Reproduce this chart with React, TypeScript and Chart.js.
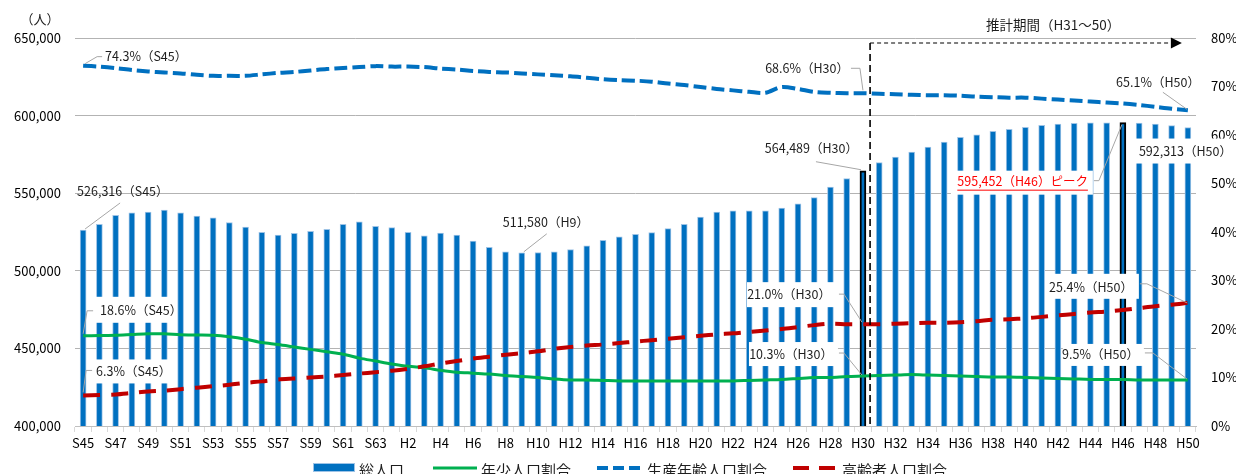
import React, { useEffect, useRef } from 'react';
import { Chart, registerables } from 'chart.js';
Chart.register(...registerables);

const FONT = '"Noto Sans CJK JP", "Noto Sans", sans-serif';
const TXT = '#1e1e1e';

const years: string[] = [
  'S45','S46','S47','S48','S49','S50','S51','S52','S53','S54','S55','S56','S57','S58','S59','S60','S61','S62','S63',
  'H1','H2','H3','H4','H5','H6','H7','H8','H9','H10','H11','H12','H13','H14','H15','H16','H17','H18','H19','H20',
  'H21','H22','H23','H24','H25','H26','H27','H28','H29','H30','H31','H32','H33','H34','H35','H36','H37','H38','H39','H40',
  'H41','H42','H43','H44','H45','H46','H47','H48','H49','H50',
];

const totalPopulation: number[] = [
  526316, 530000, 535700, 537400, 537800, 539100, 537400, 535200, 534100, 531100, 528200, 524800, 523000, 524100, 525400, 526700, 530000, 531500, 528700,
  527800, 524800, 522600, 524300, 523000, 519100, 515200, 512200, 511580, 511800, 512200, 513700, 516100, 519600, 521900, 523500, 524600, 527200, 530000, 534600,
  537800, 538700, 538700, 538700, 540400, 543200, 547100, 553900, 559500, 564489, 569800, 573300, 576500, 579700, 583000, 586000, 587600, 589800, 591100, 592500,
  593700, 594500, 595000, 595300, 595400, 595452, 595200, 594500, 593500, 592313,
];

const youthRatio: number[] = [
  18.6, 18.65, 18.7, 18.85, 19.0, 19.0, 18.8, 18.75, 18.7, 18.4, 17.9, 17.2, 16.8, 16.3, 15.8, 15.3, 14.8, 14.0, 13.4,
  12.8, 12.3, 12.0, 11.5, 11.1, 10.9, 10.7, 10.4, 10.2, 10.0, 9.7, 9.5, 9.5, 9.4, 9.3, 9.3, 9.3, 9.3, 9.3, 9.3,
  9.3, 9.3, 9.4, 9.5, 9.6, 9.8, 10.0, 10.0, 10.2, 10.3, 10.4, 10.5, 10.6, 10.5, 10.4, 10.3, 10.2, 10.1, 10.1, 10.0,
  9.9, 9.8, 9.7, 9.6, 9.6, 9.6, 9.5, 9.5, 9.5, 9.5,
];

const workingRatio: number[] = [
  74.3, 74.1, 73.8, 73.4, 73.1, 72.9, 72.7, 72.4, 72.2, 72.2, 72.2, 72.5, 72.8, 73.0, 73.3, 73.6, 73.8, 74.0, 74.2,
  74.1, 74.1, 74.0, 73.7, 73.5, 73.2, 73.0, 72.9, 72.7, 72.5, 72.3, 72.1, 71.8, 71.5, 71.3, 71.2, 71.0, 70.6, 70.3, 69.9,
  69.5, 69.2, 68.9, 68.7, 69.9, 69.5, 68.9, 68.7, 68.6, 68.6, 68.5, 68.4, 68.3, 68.2, 68.2, 68.1, 67.9, 67.8, 67.7, 67.7,
  67.5, 67.3, 67.1, 66.9, 66.7, 66.5, 66.2, 65.8, 65.4, 65.1,
];

const elderlyRatio: number[] = [
  6.3, 6.4, 6.5, 6.8, 7.1, 7.3, 7.6, 7.9, 8.2, 8.5, 8.9, 9.2, 9.6, 9.8, 10.0, 10.2, 10.5, 10.8, 11.1,
  11.4, 11.8, 12.3, 12.9, 13.4, 13.9, 14.3, 14.7, 15.0, 15.4, 15.9, 16.3, 16.6, 16.8, 17.1, 17.4, 17.7, 18.0, 18.3, 18.6,
  18.9, 19.1, 19.4, 19.7, 20.0, 20.4, 20.8, 21.1, 21.0, 21.0, 21.0, 21.1, 21.2, 21.3, 21.3, 21.4, 21.6, 21.9, 22.0, 22.2,
  22.5, 22.8, 23.1, 23.4, 23.6, 23.9, 24.3, 24.7, 25.0, 25.4,
];

const highlightYears: string[] = ['H30', 'H46'];
const seriesNames: string[] = ['総人口', '年少人口割合', '生産年齢人口割合', '高齢者人口割合'];
const forecastText = '推計期間（H31～50）';
const unitText = '（人）';

type Ann = {
  year: string;
  ds: number; // 0 bar, 1 youth, 2 working, 3 elderly
  text: string;
  align: 'left' | 'right';
  dx: number;
  dy: number;
  box?: [number, number, number, number];
  leader?: [number, number][];
  red?: boolean;
};

const annotations: Ann[] = [
  { year: 'S45', ds: 2, text: '74.3%（S45）', align: 'left', dx: 22, dy: -9, leader: [[2, -2], [14, -9], [19, -9]] },
  { year: 'H30', ds: 2, text: '68.6%（H30）', align: 'right', dx: -14, dy: -25, leader: [[-12, -25], [-3, -25], [0, -3]] },
  { year: 'H50', ds: 2, text: '65.1%（H50）', align: 'right', dx: 12, dy: -28, leader: [[-25, -18], [-1, -1]] },
  { year: 'S45', ds: 0, text: '526,316（S45）', align: 'left', dx: -6, dy: -39, leader: [[2, -1], [37, -27]] },
  { year: 'H9', ds: 0, text: '511,580（H9）', align: 'left', dx: -19, dy: -31, leader: [[2, -1], [25, -19]] },
  { year: 'H30', ds: 0, text: '564,489（H30）', align: 'right', dx: -5, dy: -22, leader: [[-47, -9], [-2, -1]] },
  { year: 'H50', ds: 0, text: '592,313（H50）', align: 'left', dx: -49, dy: 24, box: [-54, 45, 11, 36] },
  { year: 'H46', ds: 0, text: '595,452（H46）ピーク', align: 'right', dx: -35, dy: 59, box: [-172, -30, 48, 72], leader: [[-29, 58], [-24, 58], [-1, 2]], red: true },
  { year: 'S45', ds: 1, text: '18.6%（S45）', align: 'left', dx: 17, dy: -26, box: [5, 93, -39, -13], leader: [[0, -2], [4, -25], [10, -25]] },
  { year: 'S45', ds: 3, text: '6.3%（S45）', align: 'left', dx: 13, dy: -24, box: [5, 89, -36, -12], leader: [[0, -3], [3, -25], [9, -25]] },
  { year: 'H30', ds: 3, text: '21.0%（H30）', align: 'right', dx: -32, dy: -30, box: [-116, -25, -42, -17], leader: [[-24, -30], [-19, -30], [-1, -2]] },
  { year: 'H30', ds: 1, text: '10.3%（H30）', align: 'right', dx: -30, dy: -22, box: [-114, -25, -34, -10], leader: [[-24, -23], [-19, -23], [-1, -1]] },
  { year: 'H50', ds: 3, text: '25.4%（H50）', align: 'right', dx: -55, dy: -16, box: [-139, -49, -29, -4], leader: [[-48, -19], [-41, -19], [-1, 0]] },
  { year: 'H50', ds: 1, text: '9.5%（H50）', align: 'right', dx: -49, dy: -26, box: [-125, -44, -36, -14], leader: [[-43, -27], [-35, -27], [-1, -1]] },
];

const fmt = (v: number) => v.toString().replace(/\B(?=(\d{3})+(?!\d))/g, ',');

const annotationPlugin = {
  id: 'customAnnotations',
  afterDatasetsDraw(chart: any) {
    const ctx: CanvasRenderingContext2D = chart.ctx;
    const xs = chart.scales.x;
    const ys = chart.scales.y;
    const y1 = chart.scales.y1;
    const area = chart.chartArea;
    const seriesArr = [totalPopulation, youthRatio, workingRatio, elderlyRatio];

    const anchorOf = (a: Ann) => {
      const i = years.indexOf(a.year);
      const x = xs.getPixelForValue(i);
      const v = seriesArr[a.ds][i];
      const y = a.ds === 0 ? ys.getPixelForValue(v) : y1.getPixelForValue(v);
      return { x, y };
    };

    ctx.save();
    annotations.forEach((a) => {
      if (!a.box) return;
      const p = anchorOf(a);
      ctx.fillStyle = '#ffffff';
      ctx.fillRect(p.x + a.box[0], p.y + a.box[2], a.box[1] - a.box[0], a.box[3] - a.box[2]);
    });
    ctx.strokeStyle = '#a6a6a6';
    ctx.lineWidth = 1;
    annotations.forEach((a) => {
      if (!a.leader) return;
      const p = anchorOf(a);
      ctx.beginPath();
      a.leader.forEach(([lx, ly], k) => {
        if (k === 0) ctx.moveTo(p.x + lx, p.y + ly);
        else ctx.lineTo(p.x + lx, p.y + ly);
      });
      ctx.stroke();
    });
    ctx.font = `12.5px ${FONT}`;
    ctx.textBaseline = 'middle';
    annotations.forEach((a) => {
      const p = anchorOf(a);
      ctx.textAlign = a.align;
      ctx.fillStyle = a.red ? '#ff0000' : TXT;
      const tx = p.x + a.dx;
      const ty = p.y + a.dy;
      ctx.fillText(a.text, tx, ty);
      if (a.red) {
        const w = ctx.measureText(a.text).width;
        const x0 = a.align === 'right' ? tx - w : tx;
        ctx.strokeStyle = '#ff0000';
        ctx.lineWidth = 1;
        ctx.beginPath();
        ctx.moveTo(x0, ty + 8.5);
        ctx.lineTo(x0 + w, ty + 8.5);
        ctx.stroke();
      }
    });

    const iSplit = years.indexOf('H30');
    const vx = (xs.getPixelForValue(iSplit) + xs.getPixelForValue(iSplit + 1)) / 2 - 1;
    const topY = area.top + 5;
    ctx.strokeStyle = '#000000';
    ctx.lineWidth = 1.6;
    ctx.setLineDash([7, 4]);
    ctx.beginPath();
    ctx.moveTo(vx, topY);
    ctx.lineTo(vx, area.bottom);
    ctx.stroke();
    const tipX = xs.getPixelForValue(years.length - 1) - 6;
    ctx.lineWidth = 1.2;
    ctx.setLineDash([4, 3]);
    ctx.beginPath();
    ctx.moveTo(vx, topY);
    ctx.lineTo(tipX - 10, topY);
    ctx.stroke();
    ctx.setLineDash([]);
    ctx.fillStyle = '#000000';
    ctx.beginPath();
    ctx.moveTo(tipX, topY);
    ctx.lineTo(tipX - 11, topY - 5.5);
    ctx.lineTo(tipX - 11, topY + 5.5);
    ctx.closePath();
    ctx.fill();

    ctx.font = `13.5px ${FONT}`;
    ctx.fillStyle = TXT;
    ctx.textAlign = 'left';
    ctx.textBaseline = 'middle';
    ctx.fillText(forecastText, 986, 25);

    ctx.font = `13px ${FONT}`;
    ctx.textAlign = 'center';
    ctx.fillText(unitText, 40, 19);

    const ly = 468;
    ctx.font = `15px ${FONT}`;
    ctx.textBaseline = 'middle';
    ctx.textAlign = 'left';
    ctx.fillStyle = '#0070c0';
    ctx.fillRect(313, 463, 42, 9);
    ctx.strokeStyle = '#9dc3e6';
    ctx.lineWidth = 1;
    ctx.strokeRect(313.5, 463.5, 41, 8);
    ctx.fillStyle = TXT;
    ctx.fillText(seriesNames[0], 359, 470);
    ctx.strokeStyle = '#00b050';
    ctx.lineWidth = 3;
    ctx.beginPath();
    ctx.moveTo(433, ly);
    ctx.lineTo(477, ly);
    ctx.stroke();
    ctx.fillText(seriesNames[1], 481, 470);
    ctx.strokeStyle = '#0070c0';
    ctx.lineWidth = 4;
    ctx.setLineDash([11, 5]);
    ctx.beginPath();
    ctx.moveTo(597, ly);
    ctx.lineTo(643, ly);
    ctx.stroke();
    ctx.fillText(seriesNames[2], 647, 470);
    ctx.strokeStyle = '#c00000';
    ctx.setLineDash([16, 10]);
    ctx.beginPath();
    ctx.moveTo(793, ly);
    ctx.lineTo(836, ly);
    ctx.stroke();
    ctx.setLineDash([]);
    ctx.fillText(seriesNames[3], 842, 470);
    ctx.restore();
  },
};

export default function App() {
  const ref = useRef<HTMLCanvasElement | null>(null);
  useEffect(() => {
    if (!ref.current) return;
    const borderColors = years.map((y) => (highlightYears.includes(y) ? '#000000' : '#9dc3e6'));
    const borderWidths = years.map((y) => (highlightYears.includes(y) ? 2 : 1));
    const chart = new Chart(ref.current, {
      type: 'bar',
      data: {
        labels: years,
        datasets: [
          {
            type: 'bar',
            label: seriesNames[0],
            data: totalPopulation,
            backgroundColor: '#0070c0',
            borderColor: borderColors,
            borderWidth: borderWidths,
            barThickness: 6,
            yAxisID: 'y',
            order: 10,
          } as any,
          {
            type: 'line',
            label: seriesNames[1],
            data: youthRatio,
            borderColor: '#00b050',
            borderWidth: 3,
            pointRadius: 0,
            tension: 0.3,
            yAxisID: 'y1',
            order: 3,
          },
          {
            type: 'line',
            label: seriesNames[2],
            data: workingRatio,
            borderColor: '#0070c0',
            borderWidth: 4,
            borderDash: [13, 5],
            pointRadius: 0,
            tension: 0.3,
            yAxisID: 'y1',
            order: 2,
          },
          {
            type: 'line',
            label: seriesNames[3],
            data: elderlyRatio,
            borderColor: '#c00000',
            borderWidth: 4,
            borderDash: [17, 11],
            pointRadius: 0,
            tension: 0.3,
            yAxisID: 'y1',
            order: 1,
          },
        ],
      },
      options: {
        animation: false,
        responsive: false,
        maintainAspectRatio: false,
        layout: { padding: { top: 38, left: 0, right: 0, bottom: 0 } },
        plugins: { legend: { display: false }, tooltip: { enabled: false } },
        scales: {
          x: {
            offset: true,
            grid: { offset: true, drawOnChartArea: false, drawTicks: true, tickLength: 6, color: '#d9d9d9' },
            border: { display: true, color: '#bfbfbf' },
            ticks: {
              autoSkip: false,
              maxRotation: 0,
              minRotation: 0,
              padding: 3,
              color: '#000000',
              font: { family: FONT, size: 13 },
              callback: (_v: any, i: number) => (i % 2 === 0 ? years[i] : ''),
            },
            afterFit: (s: any) => { s.height = 48; },
          },
          y: {
            position: 'left',
            min: 400000,
            max: 650000,
            ticks: { stepSize: 50000, padding: 14, color: '#000000', font: { family: FONT, size: 13 }, callback: (v: any) => fmt(Number(v)) },
            grid: { color: '#b3b3b3', drawTicks: false },
            border: { display: false },
            afterFit: (s: any) => { s.width = 75; },
          },
          y1: {
            position: 'right',
            min: 0,
            max: 80,
            ticks: { stepSize: 10, padding: 15, color: '#000000', font: { family: FONT, size: 13 }, callback: (v: any) => `${v}%` },
            grid: { drawOnChartArea: false, drawTicks: false },
            border: { display: false },
            afterFit: (s: any) => { s.width = 40; },
          },
        },
      } as any,
      plugins: [annotationPlugin],
    });
    return () => chart.destroy();
  }, []);
  return (
    <div style={{ position: 'fixed', left: 0, top: 0, width: 1236, height: 474, background: '#fff' }}>
      <canvas ref={ref} width={1236} height={474} style={{ display: 'block' }} />
    </div>
  );
}
